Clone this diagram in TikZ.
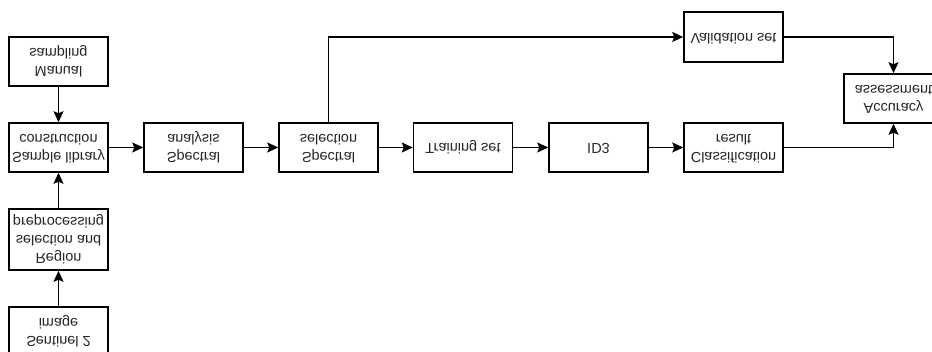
\documentclass[tikz,border=0pt]{standalone}
\usepackage{fontspec}
\setmainfont{Liberation Sans}
\usetikzlibrary{arrows.meta}
\newcommand{\flipv}[1]{\scalebox{1}[-1]{\begin{tabular}{@{}c@{}}#1\end{tabular}}}
\begin{document}
\begin{tikzpicture}[x=1pt,y=-1pt,
  box/.style={draw, line width=1.5pt, minimum width=99pt, minimum height=49pt, inner sep=0pt,
    text=black!85, font=\fontsize{14.5pt}{18pt}\selectfont},
  conn/.style={line width=1.5pt, -{Stealth[length=11pt,width=10pt,inset=2pt]}}]
\useasboundingbox[fill=white] (0,0) rectangle (932,352);
\begin{scope}
\clip (0,0) rectangle (932,352);
\node[box] (manual) at (58.5,61.5) {\flipv{Manual\\sampling}};
\node[box] (samplelib) at (58.5,147.5) {\flipv{Sample library\\construction}};
\node[box, minimum height=61pt] (region) at (58.5,239.5) {\flipv{Region\\selection and\\preprocessing}};
\node[box] (sentinel) at (58.5,331.5) {\flipv{Sentinel 2\\image}};
\node[box] (spana) at (193.5,147.5) {\flipv{Spectral\\analysis}};
\node[box] (spsel) at (328.5,147.5) {\flipv{Spectral\\selection}};
\node[box] (train) at (463,147.5) {\flipv{Training set}};
\node[box] (id3) at (598.5,147.5) {\flipv{ID3}};
\node[box] (class) at (733.5,147.5) {\flipv{Classification\\result}};
\node[box, minimum height=50pt] (valid) at (733.5,37) {\flipv{Validation set}};
\node[box] (acc) at (893.5,98.5) {\flipv{Accuracy\\assessment}};

\draw[conn] (manual) -- (samplelib);
\draw[conn] (sentinel) -- (region);
\draw[conn] (region) -- (samplelib);
\draw[conn] (samplelib) -- (spana);
\draw[conn] (spana) -- (spsel);
\draw[conn] (spsel) -- (train);
\draw[conn] (train) -- (id3);
\draw[conn] (id3) -- (class);
\draw[conn] (spsel.north) |- (valid.west);
\draw[conn] (valid.east) -| (acc.north);
\draw[conn] (class.east) -| (acc.south);
\end{scope}
\end{tikzpicture}
\end{document}
